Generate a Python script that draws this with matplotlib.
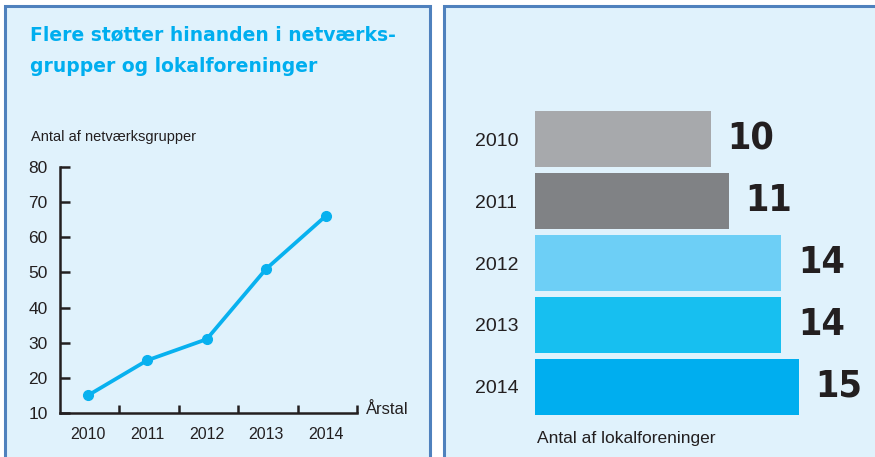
import matplotlib
matplotlib.use('Agg')
import matplotlib.pyplot as plt
from matplotlib.patches import Rectangle
import numpy as np

# Data
years = ['2010', '2011', '2012', '2013', '2014']
netvaerksgrupper = [15, 25, 31, 51, 66]
lokalforeninger = [10, 11, 14, 14, 15]
bar_colors = ['#a7a9ac', '#808285', '#6dcff6', '#17bff0', '#00aeef']

W, H = 875, 457
BG = '#e0f2fc'
EDGE = '#4f81bd'
DARK = '#231f20'
BLUE = '#00aeef'

plt.rcParams['font.family'] = ['Liberation Sans', 'DejaVu Sans']

fig = plt.figure(figsize=(W / 100, H / 100), dpi=100, facecolor='white')


def box(x0, y0, x1, y1):
    # pixel box (top-left origin) -> figure fraction [l, b, w, h]
    return [x0 / W, 1 - y1 / H, (x1 - x0) / W, (y1 - y0) / H]


# panel backgrounds
for x0, x1 in [(5, 430), (444, 890)]:
    l, b, w, h = box(x0, 6, x1, 470)
    fig.patches.append(Rectangle((l, b), w, h, transform=fig.transFigure,
                                 facecolor=BG, edgecolor=EDGE, linewidth=2.2,
                                 zorder=-5))

# ---- left panel: line chart
for txt, yb in [('Flere støtter hinanden i netværks-', 40),
                ('grupper og lokalforeninger', 72)]:
    fig.text(30 / W, 1 - yb / H, txt, color=BLUE, fontsize=13.5,
             fontweight='bold', va='baseline', ha='left', family=['DejaVu Sans'])

ax = fig.add_axes(box(60, 167, 357, 413), zorder=2)
ax.set_facecolor('none')
x = np.arange(len(years)) + 0.47
ax.plot(x, netvaerksgrupper, color='#08b1ef', linewidth=2.7, marker='o',
        markersize=7, solid_capstyle='round', clip_on=False)
ax.set_xlim(0, 5)
ax.set_ylim(10, 80)
for s in ['top', 'right']:
    ax.spines[s].set_visible(False)
for s in ['left', 'bottom']:
    ax.spines[s].set_color(DARK)
    ax.spines[s].set_linewidth(1.8)
ax.set_yticks(range(10, 81, 10))
ax.tick_params(axis='y', direction='in', length=7, width=1.8, color=DARK,
               labelsize=12.5, labelcolor=DARK, pad=9)
ax.set_xticks([1, 2, 3, 4, 5])
ax.set_xticklabels([])
ax.tick_params(axis='x', which='major', direction='in', length=6, width=1.8, color=DARK)
ax.set_xticks(x, minor=True)
ax.set_xticklabels(years, minor=True)
ax.tick_params(axis='x', which='minor', length=0, labelsize=11.5, labelcolor=DARK, pad=10)
fig.text(31 / W, 1 - 137 / H, 'Antal af netværksgrupper', fontsize=10.5,
         color=DARK, va='center', ha='left')
fig.text(366 / W, 1 - 409 / H, 'Årstal', fontsize=12, color=DARK,
         va='center', ha='left')

# ---- right panel: bar chart
scale = 17.6  # px per unit
ax2 = fig.add_axes(box(535, 111, 875, 415), zorder=2)
ax2.set_facecolor('none')
pos = np.arange(len(years))
bh = 0.908
ax2.barh(pos, lokalforeninger, height=bh, color=bar_colors)
ax2.set_xlim(0, 340 / scale)
ax2.set_ylim(len(years) - 1 + bh / 2, -bh / 2)
for s in ax2.spines.values():
    s.set_visible(False)
ax2.set_xticks([])
ax2.set_yticks(pos)
ax2.set_yticklabels(years)
ax2.tick_params(axis='y', length=0, labelsize=14, labelcolor=DARK, pad=43)
for lab in ax2.get_yticklabels():
    lab.set_ha('left')
for p, v in zip(pos, lokalforeninger):
    ax2.annotate(str(v), (v, p), xytext=(12, 0), textcoords='offset points',
                 fontsize=27, fontweight='heavy', color=DARK, va='center', ha='left',
                 family=['DejaVu Sans'], stretch='condensed')
fig.text(537 / W, 1 - 439 / H, 'Antal af lokalforeninger', fontsize=12.5,
         color=DARK, va='center', ha='left')

fig.savefig('out.png', dpi=100, facecolor='white')
